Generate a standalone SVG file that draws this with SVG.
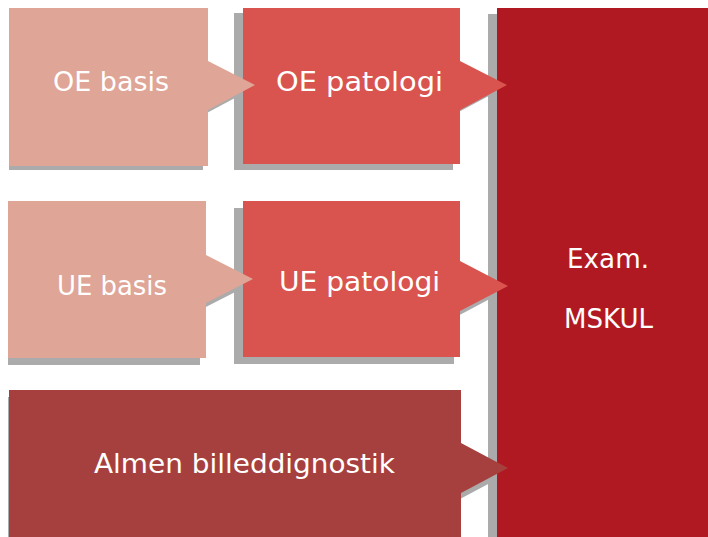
<svg xmlns="http://www.w3.org/2000/svg" width="708" height="537" viewBox="0 0 708 537">
<style>
.sh{fill:#ABABAB}
.basis{fill:#DFA596}
.pat{fill:#D9534F}
.exam{fill:#B11922}
.almen{fill:#A6403E}
.t{fill:#FFFFFF;font-family:"DejaVu Sans","Liberation Sans",sans-serif;font-size:27px}
</style>
<rect width="708" height="537" fill="#FFFFFF"/>
<g id="shadows">
<path class="sh" d="M488,14 H700 V537 H488 Z"/>
<path class="sh" d="M234,13 H453 V66 L500,90 L453,115 V170 H234 Z"/>
<path class="sh" d="M234,208 H454 V268 L501,293 L454,318 V364 H234 Z"/>
<path class="sh" d="M8,397 H460 V449 L507,474 L460,499 V537 H8 Z"/>
<path class="sh" d="M9,12 H203 V65 L250,90 L203,115 V170 H9 Z"/>
<path class="sh" d="M8,208 H200 V262 L247,286 L200,310 V365 H8 Z"/>
</g>
<g id="exam">
<rect class="exam" x="497" y="8" width="211" height="529"/>
<text class="t" x="567" y="268" textLength="82" lengthAdjust="spacingAndGlyphs">Exam.</text>
<text class="t" x="564" y="328" textLength="89" lengthAdjust="spacingAndGlyphs">MSKUL</text>
</g>
<g id="oe-patologi">
<path class="pat" d="M243,8 H460 V61 L507,85 L460,110 V164 H243 Z"/>
<text class="t" x="276" y="91" textLength="167" lengthAdjust="spacingAndGlyphs">OE patologi</text>
</g>
<g id="ue-patologi">
<path class="pat" d="M243,201 H460 V261 L508,286 L460,311 V357 H243 Z"/>
<text class="t" x="279" y="291" textLength="161" lengthAdjust="spacingAndGlyphs">UE patologi</text>
</g>
<g id="almen">
<path class="almen" d="M9,390 H461 V443 L508,468 L461,493 V537 H9 Z"/>
<text class="t" x="94" y="473" font-size="26" textLength="301" lengthAdjust="spacingAndGlyphs">Almen billeddignostik</text>
</g>
<g id="oe-basis">
<path class="basis" d="M9,8 H208 V61 L255,85 L208,110 V166 H9 Z"/>
<text class="t" x="53" y="91" textLength="116" lengthAdjust="spacingAndGlyphs">OE basis</text>
</g>
<g id="ue-basis">
<path class="basis" d="M8,201 H206 V255 L253,279 L206,303 V358 H8 Z"/>
<text class="t" x="57" y="295" textLength="110" lengthAdjust="spacingAndGlyphs">UE basis</text>
</g>
<g id="connectors"></g>
</svg>
